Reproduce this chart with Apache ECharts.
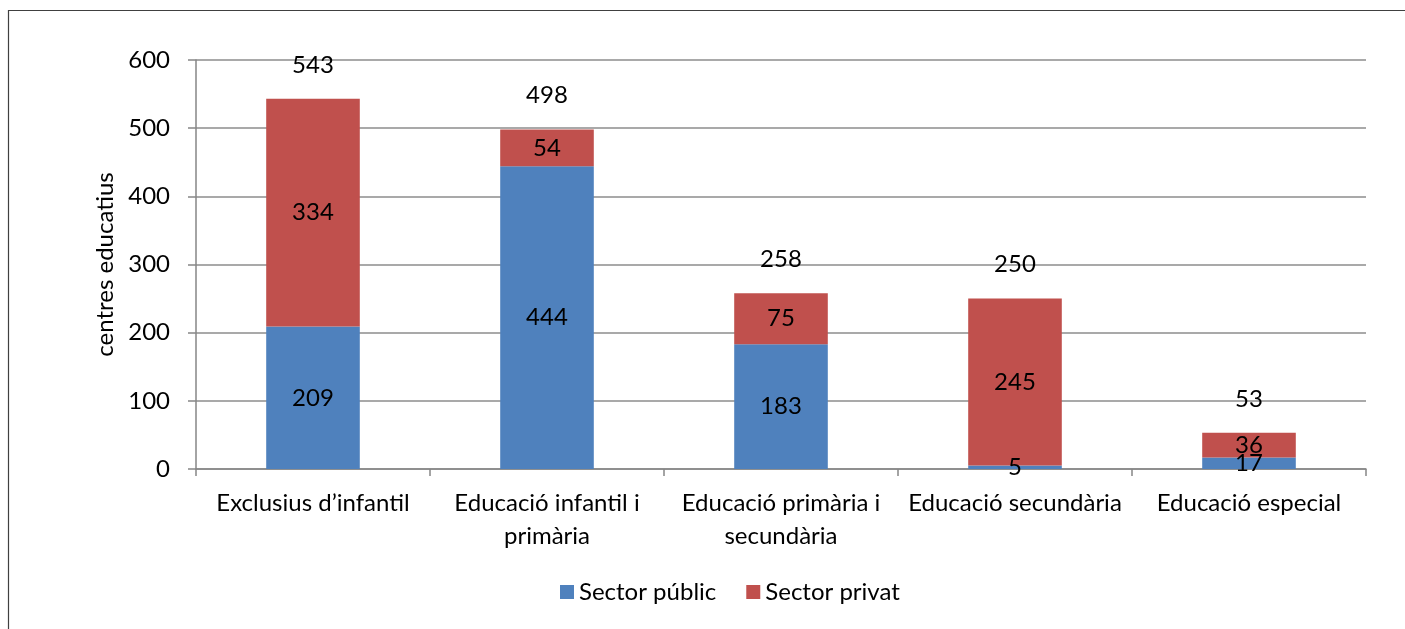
<!DOCTYPE html>
<html>
<head>
<meta charset="utf-8">
<script src="https://cdn.jsdelivr.net/npm/echarts@6/dist/echarts.min.js"></script>
<style>
html,body{margin:0;padding:0;background:#fff;}
#chart{width:1405px;height:629px;}
</style>
</head>
<body>
<div id="chart"></div>
<script>
const categories = ["Exclusius d\u2019infantil", "Educació infantil i\nprimària", "Educació primària i\nsecundària", "Educació secundària", "Educació especial"];
const publicValues = [209, 444, 183, 5, 17];
const privatValues = [334, 54, 75, 245, 36];
const totalValues = [543, 498, 258, 250, 53];
const yTicks = { min: 0, max: 600, interval: 100 };
const seriesNames = ["Sector públic", "Sector privat"];

const FONT = "Lato";
const FS = 24;
const chart = echarts.init(document.getElementById('chart'), null, {renderer: 'canvas'});
const option = {
  backgroundColor: '#fff',
  animation: false,
  textStyle: { fontFamily: FONT, color: '#000' },
  graphic: [{
    type: 'rect', shape: { x: 8.5, y: 10.5, width: 1420, height: 640 },
    style: { fill: 'none', stroke: '#404040', lineWidth: 1.2 }, silent: true
  }],
  grid: { left: 196, right: 39, top: 60, bottom: 160, containLabel: false },
  legend: {
    data: seriesNames, left: 555, top: 575, itemWidth: 14, itemHeight: 14, itemGap: 30,
    icon: 'rect', textStyle: { fontFamily: FONT, fontSize: FS, color: '#000' }
  },
  xAxis: {
    type: 'category', data: categories,
    axisLine: { lineStyle: { color: '#868686', width: 1.5 } },
    axisTick: { show: true, length: 7, alignWithLabel: false, lineStyle: { color: '#868686', width: 1.5 } },
    axisLabel: { fontFamily: FONT, fontSize: FS, color: '#000', margin: 18, lineHeight: 33, interval: 0 }
  },
  yAxis: {
    type: 'value', min: yTicks.min, max: yTicks.max, interval: yTicks.interval,
    name: 'centres educatius', nameLocation: 'middle', nameGap: 78, nameRotate: 90,
    nameTextStyle: { fontFamily: FONT, fontSize: FS, color: '#000' },
    axisLine: { show: true, lineStyle: { color: '#868686', width: 1.5 } },
    axisTick: { show: true, length: 8, lineStyle: { color: '#868686', width: 1.5 } },
    axisLabel: { fontFamily: FONT, fontSize: FS, color: '#000', margin: 26 },
    splitLine: { show: true, lineStyle: { color: '#8c8c8c', width: 1.5 } }
  },
  series: [
    {
      name: seriesNames[0], type: 'bar', stack: 'a', data: publicValues, barWidth: '40%',
      itemStyle: { color: '#4F81BD' },
      label: { show: true, position: 'inside', fontFamily: FONT, fontSize: FS, color: '#000' }
    },
    {
      name: seriesNames[1], type: 'bar', stack: 'a', data: privatValues, barWidth: '40%',
      itemStyle: { color: '#C0504D' },
      label: { show: true, position: 'inside', fontFamily: FONT, fontSize: FS, color: '#000' }
    },
    {
      name: 'Total', type: 'bar', data: totalValues, barWidth: '40%', barGap: '-100%',
      itemStyle: { color: 'rgba(0,0,0,0)' }, silent: true, z: 10,
      label: { show: true, position: 'top', distance: 22, fontFamily: FONT, fontSize: FS, color: '#000' }
    }
  ]
};
chart.setOption(option);
</script>
</body>
</html>
